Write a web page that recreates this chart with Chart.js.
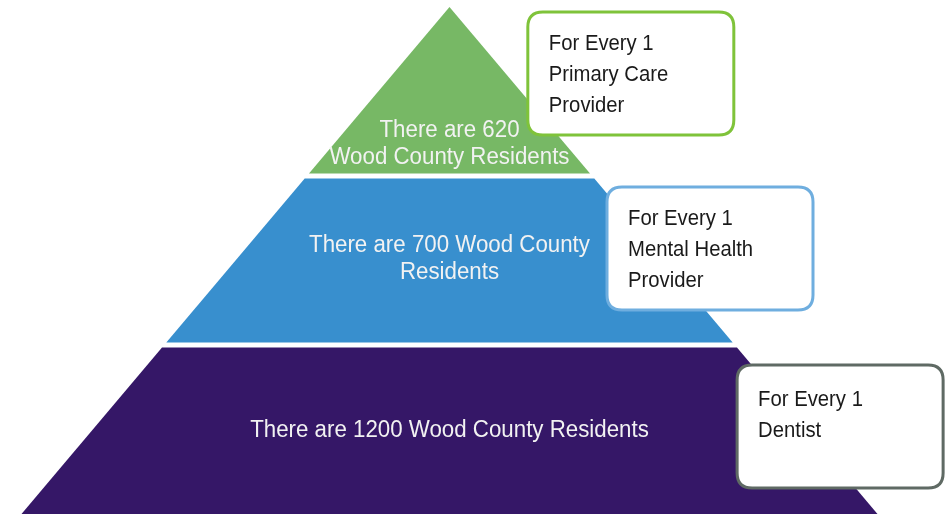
<!DOCTYPE html>
<html>
<head>
<meta charset="utf-8">
<script src="https://cdn.jsdelivr.net/npm/chart.js@4"></script>
<style>
  html, body { margin: 0; padding: 0; background: #fff; }
  #wrap { width: 945px; height: 514px; position: relative; }
</style>
</head>
<body>
<div id="wrap"><canvas id="pyramid"></canvas></div>
<script>
// tiers from the base of the pyramid to the top
const providers = ['Dentist', 'Mental Health Provider', 'Primary Care Provider'];
const residents = [1200, 700, 620];
const bandText = [
    ['There are ' + residents[0] + ' Wood County Residents'],
    ['There are ' + residents[1] + ' Wood County', 'Residents'],
    ['There are ' + residents[2], 'Wood County Residents']
];
const boxText = [
    ['For Every 1', 'Dentist'],
    ['For Every 1', 'Mental Health', 'Provider'],
    ['For Every 1', 'Primary Care', 'Provider']
];

const bandColors = ['#351767', '#388FCE', '#77B865'];
const boxBorders = ['#5F6A64', '#6FAEDF', '#7FC33A'];

// pyramid is 3 units high, base half-width 1
const HEIGHT = providers.length;
const GAP = 0.015;
const halfWidth = h => (HEIGHT - h) / HEIGHT;

function bandPoints(i) {
    const lo = i === 0 ? 0 : i + GAP;
    const hi = i === HEIGHT - 1 ? HEIGHT : i + 1 - GAP;
    const pts = [
        { x: -halfWidth(lo), y: lo },
        { x: -halfWidth(hi), y: hi },
        { x: halfWidth(hi), y: hi },
        { x: halfWidth(lo), y: lo }
    ];
    pts.push(pts[0]);
    return pts;
}

// where the text sits in each band (data units) and callout anchors
const textCenterY = [0.509, 1.52, 2.201];
const boxAnchor = [
    { x: 0.672, y: 0.882 },
    { x: 0.368, y: 1.935 },
    { x: 0.183, y: 2.970 }
];
const boxFirstLine = [41, 38, 38];
const BOX_W = 206, BOX_H = 123;

function roundRect(ctx, x, y, w, h, r) {
    ctx.beginPath();
    ctx.moveTo(x + r, y);
    ctx.lineTo(x + w - r, y);
    ctx.quadraticCurveTo(x + w, y, x + w, y + r);
    ctx.lineTo(x + w, y + h - r);
    ctx.quadraticCurveTo(x + w, y + h, x + w - r, y + h);
    ctx.lineTo(x + r, y + h);
    ctx.quadraticCurveTo(x, y + h, x, y + h - r);
    ctx.lineTo(x, y + r);
    ctx.quadraticCurveTo(x, y, x + r, y);
    ctx.closePath();
}

// text in the original is a little taller than plain Arial
function tallText(ctx, t, x, y, sy) {
    ctx.save();
    ctx.translate(x, y);
    ctx.scale(1, sy);
    ctx.fillText(t, 0, 0);
    ctx.restore();
}

const calloutPlugin = {
    id: 'callouts',
    afterDatasetsDraw(chart) {
        const { ctx, scales: { x, y } } = chart;
        ctx.save();
        ctx.textBaseline = 'alphabetic';

        // resident counts inside the bands
        ctx.textAlign = 'center';
        ctx.font = '22.3px "Liberation Sans", Arial, sans-serif';
        ctx.fillStyle = '#F2F2F2';
        const capBand = 0.716 * 22.3 * 1.08;
        bandText.forEach((lines, i) => {
            const cx = x.getPixelForValue(0);
            const cy = y.getPixelForValue(textCenterY[i]);
            lines.forEach((t, k) => {
                tallText(ctx, t, cx, cy + capBand / 2 + (k - (lines.length - 1) / 2) * 27, 1.08);
            });
        });

        // provider boxes
        ctx.textAlign = 'left';
        ctx.font = '20.3px "Liberation Sans", Arial, sans-serif';
        boxText.forEach((lines, i) => {
            const bx = x.getPixelForValue(boxAnchor[i].x);
            const by = y.getPixelForValue(boxAnchor[i].y);
            roundRect(ctx, bx, by, BOX_W, BOX_H, 15);
            ctx.fillStyle = '#FFFFFF';
            ctx.fill();
            ctx.lineWidth = 3;
            ctx.strokeStyle = boxBorders[i];
            ctx.stroke();
            ctx.fillStyle = '#1A1A1A';
            lines.forEach((t, k) => {
                tallText(ctx, t, bx + 21, by + boxFirstLine[i] + k * 31, 1.08);
            });
        });

        ctx.restore();
    }
};

const ctx = document.getElementById('pyramid').getContext('2d');
new Chart(ctx, {
    type: 'scatter',
    data: {
        datasets: providers.map((p, i) => ({
            label: p,
            data: bandPoints(i),
            showLine: true,
            fill: 'shape',
            backgroundColor: bandColors[i],
            borderColor: bandColors[i],
            borderWidth: 0,
            pointRadius: 0,
            tension: 0
        }))
    },
    options: {
        responsive: true,
        maintainAspectRatio: false,
        animation: false,
        layout: { padding: 0 },
        scales: {
            x: { type: 'linear', display: false, min: -1.0502, max: 1.1577 },
            y: { type: 'linear', display: false, min: 0, max: 3.0414 }
        },
        plugins: {
            legend: { display: false },
            tooltip: { enabled: false }
        }
    },
    plugins: [calloutPlugin]
});
</script>
</body>
</html>
